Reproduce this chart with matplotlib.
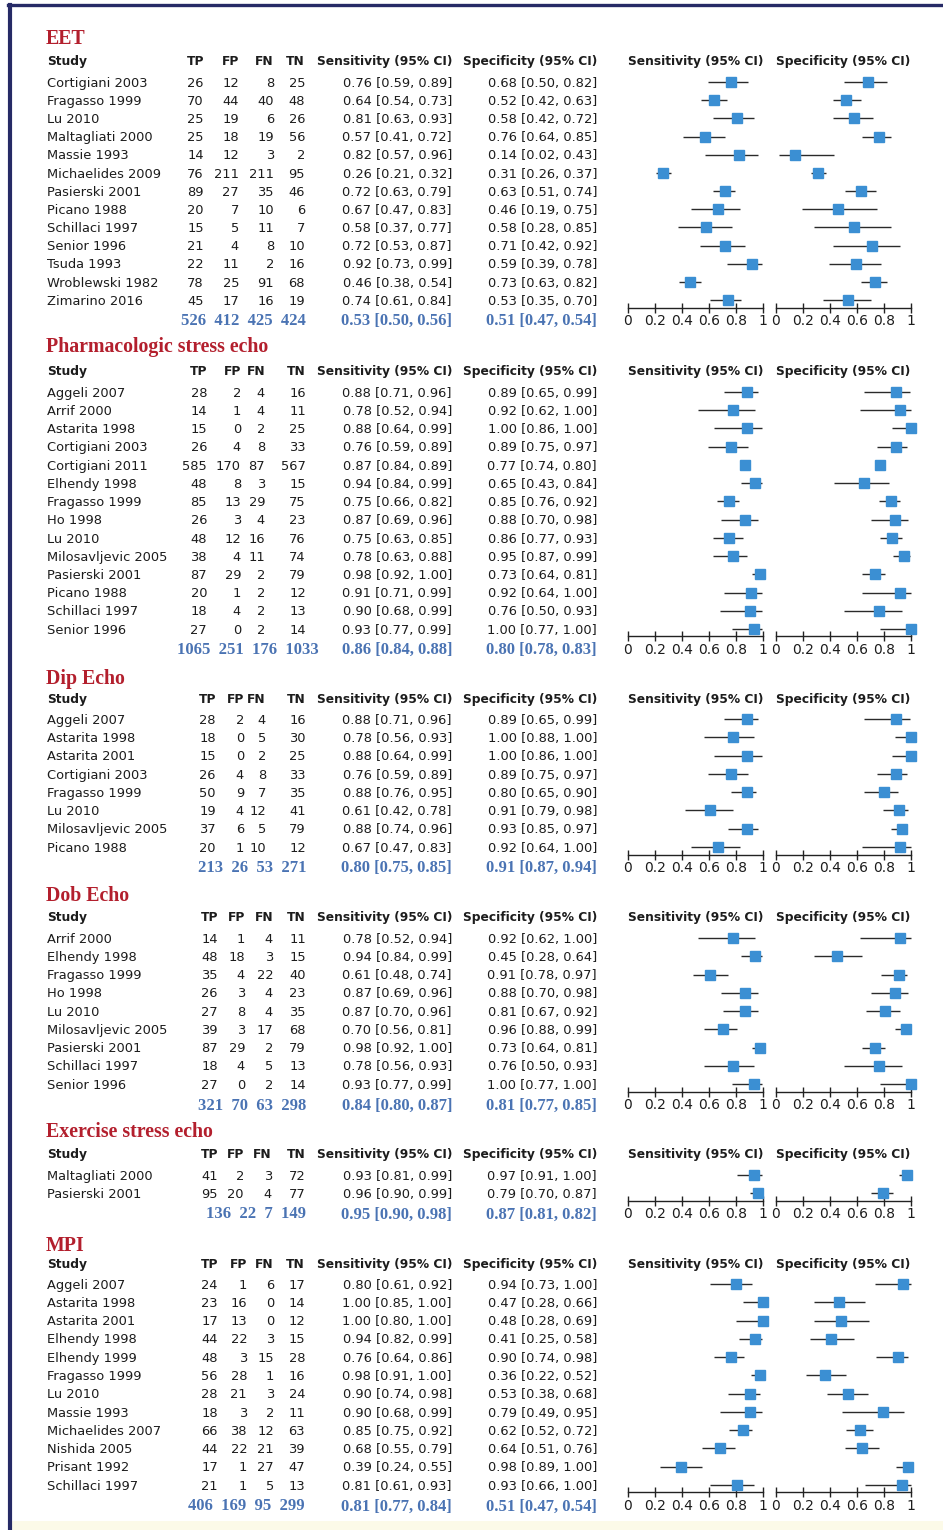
import matplotlib
matplotlib.use("Agg")
import matplotlib.pyplot as plt
from matplotlib.patches import Rectangle
from matplotlib.lines import Line2D
import numpy as np

# ---------------- DATA ----------------
eet_title = "EET"
eet_study = ["Cortigiani 2003", "Fragasso 1999", "Lu 2010", "Maltagliati 2000", "Massie 1993",
             "Michaelides 2009", "Pasierski 2001", "Picano 1988", "Schillaci 1997", "Senior 1996",
             "Tsuda 1993", "Wroblewski 1982", "Zimarino 2016"]
eet_tp = [26, 70, 25, 25, 14, 76, 89, 20, 15, 21, 22, 78, 45]
eet_fp = [12, 44, 19, 18, 12, 211, 27, 7, 5, 4, 11, 25, 17]
eet_fn = [8, 40, 6, 19, 3, 211, 35, 10, 11, 8, 2, 91, 16]
eet_tn = [25, 48, 26, 56, 2, 95, 46, 6, 7, 10, 16, 68, 19]
eet_sens = [0.76, 0.64, 0.81, 0.57, 0.82, 0.26, 0.72, 0.67, 0.58, 0.72, 0.92, 0.46, 0.74]
eet_sens_lo = [0.59, 0.54, 0.63, 0.41, 0.57, 0.21, 0.63, 0.47, 0.37, 0.53, 0.73, 0.38, 0.61]
eet_sens_hi = [0.89, 0.73, 0.93, 0.72, 0.96, 0.32, 0.79, 0.83, 0.77, 0.87, 0.99, 0.54, 0.84]
eet_spec = [0.68, 0.52, 0.58, 0.76, 0.14, 0.31, 0.63, 0.46, 0.58, 0.71, 0.59, 0.73, 0.53]
eet_spec_lo = [0.50, 0.42, 0.42, 0.64, 0.02, 0.26, 0.51, 0.19, 0.28, 0.42, 0.39, 0.63, 0.35]
eet_spec_hi = [0.82, 0.63, 0.72, 0.85, 0.43, 0.37, 0.74, 0.75, 0.85, 0.92, 0.78, 0.82, 0.70]
eet_total = [526, 412, 425, 424]
eet_pooled_sens = [0.53, 0.50, 0.56]
eet_pooled_spec = [0.51, 0.47, 0.54]

pha_title = "Pharmacologic stress echo"
pha_study = ["Aggeli 2007", "Arrif 2000", "Astarita 1998", "Cortigiani 2003", "Cortigiani 2011",
             "Elhendy 1998", "Fragasso 1999", "Ho 1998", "Lu 2010", "Milosavljevic 2005",
             "Pasierski 2001", "Picano 1988", "Schillaci 1997", "Senior 1996"]
pha_tp = [28, 14, 15, 26, 585, 48, 85, 26, 48, 38, 87, 20, 18, 27]
pha_fp = [2, 1, 0, 4, 170, 8, 13, 3, 12, 4, 29, 1, 4, 0]
pha_fn = [4, 4, 2, 8, 87, 3, 29, 4, 16, 11, 2, 2, 2, 2]
pha_tn = [16, 11, 25, 33, 567, 15, 75, 23, 76, 74, 79, 12, 13, 14]
pha_sens = [0.88, 0.78, 0.88, 0.76, 0.87, 0.94, 0.75, 0.87, 0.75, 0.78, 0.98, 0.91, 0.90, 0.93]
pha_sens_lo = [0.71, 0.52, 0.64, 0.59, 0.84, 0.84, 0.66, 0.69, 0.63, 0.63, 0.92, 0.71, 0.68, 0.77]
pha_sens_hi = [0.96, 0.94, 0.99, 0.89, 0.89, 0.99, 0.82, 0.96, 0.85, 0.88, 1.00, 0.99, 0.99, 0.99]
pha_spec = [0.89, 0.92, 1.00, 0.89, 0.77, 0.65, 0.85, 0.88, 0.86, 0.95, 0.73, 0.92, 0.76, 1.00]
pha_spec_lo = [0.65, 0.62, 0.86, 0.75, 0.74, 0.43, 0.76, 0.70, 0.77, 0.87, 0.64, 0.64, 0.50, 0.77]
pha_spec_hi = [0.99, 1.00, 1.00, 0.97, 0.80, 0.84, 0.92, 0.98, 0.93, 0.99, 0.81, 1.00, 0.93, 1.00]
pha_total = [1065, 251, 176, 1033]
pha_pooled_sens = [0.86, 0.84, 0.88]
pha_pooled_spec = [0.80, 0.78, 0.83]

dip_title = "Dip Echo"
dip_study = ["Aggeli 2007", "Astarita 1998", "Astarita 2001", "Cortigiani 2003", "Fragasso 1999",
             "Lu 2010", "Milosavljevic 2005", "Picano 1988"]
dip_tp = [28, 18, 15, 26, 50, 19, 37, 20]
dip_fp = [2, 0, 0, 4, 9, 4, 6, 1]
dip_fn = [4, 5, 2, 8, 7, 12, 5, 10]
dip_tn = [16, 30, 25, 33, 35, 41, 79, 12]
dip_sens = [0.88, 0.78, 0.88, 0.76, 0.88, 0.61, 0.88, 0.67]
dip_sens_lo = [0.71, 0.56, 0.64, 0.59, 0.76, 0.42, 0.74, 0.47]
dip_sens_hi = [0.96, 0.93, 0.99, 0.89, 0.95, 0.78, 0.96, 0.83]
dip_spec = [0.89, 1.00, 1.00, 0.89, 0.80, 0.91, 0.93, 0.92]
dip_spec_lo = [0.65, 0.88, 0.86, 0.75, 0.65, 0.79, 0.85, 0.64]
dip_spec_hi = [0.99, 1.00, 1.00, 0.97, 0.90, 0.98, 0.97, 1.00]
dip_total = [213, 26, 53, 271]
dip_pooled_sens = [0.80, 0.75, 0.85]
dip_pooled_spec = [0.91, 0.87, 0.94]

dob_title = "Dob Echo"
dob_study = ["Arrif 2000", "Elhendy 1998", "Fragasso 1999", "Ho 1998", "Lu 2010",
             "Milosavljevic 2005", "Pasierski 2001", "Schillaci 1997", "Senior 1996"]
dob_tp = [14, 48, 35, 26, 27, 39, 87, 18, 27]
dob_fp = [1, 18, 4, 3, 8, 3, 29, 4, 0]
dob_fn = [4, 3, 22, 4, 4, 17, 2, 5, 2]
dob_tn = [11, 15, 40, 23, 35, 68, 79, 13, 14]
dob_sens = [0.78, 0.94, 0.61, 0.87, 0.87, 0.70, 0.98, 0.78, 0.93]
dob_sens_lo = [0.52, 0.84, 0.48, 0.69, 0.70, 0.56, 0.92, 0.56, 0.77]
dob_sens_hi = [0.94, 0.99, 0.74, 0.96, 0.96, 0.81, 1.00, 0.93, 0.99]
dob_spec = [0.92, 0.45, 0.91, 0.88, 0.81, 0.96, 0.73, 0.76, 1.00]
dob_spec_lo = [0.62, 0.28, 0.78, 0.70, 0.67, 0.88, 0.64, 0.50, 0.77]
dob_spec_hi = [1.00, 0.64, 0.97, 0.98, 0.92, 0.99, 0.81, 0.93, 1.00]
dob_total = [321, 70, 63, 298]
dob_pooled_sens = [0.84, 0.80, 0.87]
dob_pooled_spec = [0.81, 0.77, 0.85]

exe_title = "Exercise stress echo"
exe_study = ["Maltagliati 2000", "Pasierski 2001"]
exe_tp = [41, 95]
exe_fp = [2, 20]
exe_fn = [3, 4]
exe_tn = [72, 77]
exe_sens = [0.93, 0.96]
exe_sens_lo = [0.81, 0.90]
exe_sens_hi = [0.99, 0.99]
exe_spec = [0.97, 0.79]
exe_spec_lo = [0.91, 0.70]
exe_spec_hi = [1.00, 0.87]
exe_total = [136, 22, 7, 149]
exe_pooled_sens = [0.95, 0.90, 0.98]
exe_pooled_spec = [0.87, 0.81, 0.82]

mpi_title = "MPI"
mpi_study = ["Aggeli 2007", "Astarita 1998", "Astarita 2001", "Elhendy 1998", "Elhendy 1999",
             "Fragasso 1999", "Lu 2010", "Massie 1993", "Michaelides 2007", "Nishida 2005",
             "Prisant 1992", "Schillaci 1997"]
mpi_tp = [24, 23, 17, 44, 48, 56, 28, 18, 66, 44, 17, 21]
mpi_fp = [1, 16, 13, 22, 3, 28, 21, 3, 38, 22, 1, 1]
mpi_fn = [6, 0, 0, 3, 15, 1, 3, 2, 12, 21, 27, 5]
mpi_tn = [17, 14, 12, 15, 28, 16, 24, 11, 63, 39, 47, 13]
mpi_sens = [0.80, 1.00, 1.00, 0.94, 0.76, 0.98, 0.90, 0.90, 0.85, 0.68, 0.39, 0.81]
mpi_sens_lo = [0.61, 0.85, 0.80, 0.82, 0.64, 0.91, 0.74, 0.68, 0.75, 0.55, 0.24, 0.61]
mpi_sens_hi = [0.92, 1.00, 1.00, 0.99, 0.86, 1.00, 0.98, 0.99, 0.92, 0.79, 0.55, 0.93]
mpi_spec = [0.94, 0.47, 0.48, 0.41, 0.90, 0.36, 0.53, 0.79, 0.62, 0.64, 0.98, 0.93]
mpi_spec_lo = [0.73, 0.28, 0.28, 0.25, 0.74, 0.22, 0.38, 0.49, 0.52, 0.51, 0.89, 0.66]
mpi_spec_hi = [1.00, 0.66, 0.69, 0.58, 0.98, 0.52, 0.68, 0.95, 0.72, 0.76, 1.00, 1.00]
mpi_total = [406, 169, 95, 299]
mpi_pooled_sens = [0.81, 0.77, 0.84]
mpi_pooled_spec = [0.51, 0.47, 0.54]

col_headers = ["Study", "TP", "FP", "FN", "TN", "Sensitivity (95% CI)", "Specificity (95% CI)"]
plot_headers = ["Sensitivity (95% CI)", "Specificity (95% CI)"]
tick_values = [0, 0.2, 0.4, 0.6, 0.8, 1]
tick_labels = ["0", "0.2", "0.4", "0.6", "0.8", "1"]

sections = [
    dict(title=eet_title, study=eet_study, tp=eet_tp, fp=eet_fp, fn=eet_fn, tn=eet_tn,
         sens=eet_sens, slo=eet_sens_lo, shi=eet_sens_hi, spec=eet_spec, plo=eet_spec_lo, phi=eet_spec_hi,
         total=eet_total, psens=eet_pooled_sens, pspec=eet_pooled_spec),
    dict(title=pha_title, study=pha_study, tp=pha_tp, fp=pha_fp, fn=pha_fn, tn=pha_tn,
         sens=pha_sens, slo=pha_sens_lo, shi=pha_sens_hi, spec=pha_spec, plo=pha_spec_lo, phi=pha_spec_hi,
         total=pha_total, psens=pha_pooled_sens, pspec=pha_pooled_spec),
    dict(title=dip_title, study=dip_study, tp=dip_tp, fp=dip_fp, fn=dip_fn, tn=dip_tn,
         sens=dip_sens, slo=dip_sens_lo, shi=dip_sens_hi, spec=dip_spec, plo=dip_spec_lo, phi=dip_spec_hi,
         total=dip_total, psens=dip_pooled_sens, pspec=dip_pooled_spec),
    dict(title=dob_title, study=dob_study, tp=dob_tp, fp=dob_fp, fn=dob_fn, tn=dob_tn,
         sens=dob_sens, slo=dob_sens_lo, shi=dob_sens_hi, spec=dob_spec, plo=dob_spec_lo, phi=dob_spec_hi,
         total=dob_total, psens=dob_pooled_sens, pspec=dob_pooled_spec),
    dict(title=exe_title, study=exe_study, tp=exe_tp, fp=exe_fp, fn=exe_fn, tn=exe_tn,
         sens=exe_sens, slo=exe_sens_lo, shi=exe_sens_hi, spec=exe_spec, plo=exe_spec_lo, phi=exe_spec_hi,
         total=exe_total, psens=exe_pooled_sens, pspec=exe_pooled_spec),
    dict(title=mpi_title, study=mpi_study, tp=mpi_tp, fp=mpi_fp, fn=mpi_fn, tn=mpi_tn,
         sens=mpi_sens, slo=mpi_sens_lo, shi=mpi_sens_hi, spec=mpi_spec, plo=mpi_spec_lo, phi=mpi_spec_hi,
         total=mpi_total, psens=mpi_pooled_sens, pspec=mpi_pooled_spec),
]

# ---------------- LAYOUT (pixels) ----------------
W, H, DPI = 943, 1530, 100
layout = [  # title_y, header_y, first_row_y, step, summary_y, column right edges, summary right edge
    (37, 61, 82, 18.17, 319, (204, 239, 274, 305), 306),
    (345, 371, 392, 18.23, 648, (207, 241, 265, 306), 319),
    (677, 699, 719, 18.29, 866, (216, 244, 266, 306), 306),
    (894, 917, 938, 18.25, 1104, (218, 245, 273, 306), 306),
    (1130, 1154, 1175, 18.0, 1213, (218, 244, 272, 306), 306),
    (1244, 1264, 1284, 18.27, 1505, (218, 247, 274, 305), 305),
]
X_STUDY = 47
X_SENS_TXT = 452
X_SPEC_TXT = 597
SENS_AX = (628, 763)
SPEC_AX = (776, 911)

NAVY = "#262a66"
RED = "#b31f2d"
BLUE_TXT = "#4a73b3"
SQ = "#3b8fd3"
INK = "#1c1c1c"

BODY = dict(family="DejaVu Sans", fontsize=9.4, color=INK)
HEAD = dict(family="DejaVu Sans", fontsize=8.8, fontweight="bold", color=INK)
TITLE = dict(family="Liberation Serif", fontsize=14.3, fontweight="bold", color=RED)
SUMF = dict(family="Liberation Serif", fontsize=12, fontweight="bold", color=BLUE_TXT)

fig = plt.figure(figsize=(W / DPI, H / DPI), dpi=DPI)
fig.patch.set_facecolor("white")
bg = fig.add_axes([0, 0, 1, 1])
bg.set_xlim(0, W)
bg.set_ylim(H, 0)
bg.axis("off")

# frame + faint band at bottom
bg.add_patch(Rectangle((10, 1521), W - 10, 9, facecolor="#fcfae8", edgecolor="none"))
fig.add_artist(Line2D([9.5 / W, 9.5 / W], [0, 1 - 4.5 / H], transform=fig.transFigure, color=NAVY, lw=3))
fig.add_artist(Line2D([8 / W, 1], [1 - 4.5 / H, 1 - 4.5 / H], transform=fig.transFigure, color=NAVY, lw=2.4))


def ci_text(v):
    return f"{v[0]:.2f} [{v[1]:.2f}, {v[2]:.2f}]"


def base(y, size_px=13.0):
    return y + 0.36 * size_px


def forest(x0, x1, first_y, step, n, est, lo, hi):
    top_px = first_y - 10
    bot_px = first_y + (n - 1) * step + 7.5
    ax = fig.add_axes([x0 / W, 1 - bot_px / H, (x1 - x0) / W, (bot_px - top_px) / H])
    ax.set_xlim(0, 1)
    ax.set_ylim((bot_px - first_y) / step, (top_px - first_y) / step)
    ax.patch.set_alpha(0)
    y = np.arange(n)
    ax.hlines(y, lo, hi, color="#2a2a2a", lw=1.0, clip_on=False, zorder=2)
    ax.plot(est, y, "s", ms=6.8, color=SQ, mec=SQ, clip_on=False, zorder=3)
    for s in ["top", "left", "right"]:
        ax.spines[s].set_visible(False)
    ax.spines["bottom"].set_linewidth(1.0)
    ax.spines["bottom"].set_color("#222222")
    ax.set_yticks([])
    ax.set_xticks(tick_values)
    ax.set_xticklabels(tick_labels, family="DejaVu Sans", fontsize=10, color=INK)
    ax.tick_params(axis="x", direction="inout", length=7, width=1.0, pad=1.5, color="#222222")
    return ax


for sec, (ty, hy, ry, step, sy, xnum, xsum) in zip(sections, layout):
    n = len(sec["study"])
    bg.text(X_STUDY - 1, ty + 7, sec["title"], ha="left", va="baseline", **TITLE)
    hb = base(hy, 12.2)
    bg.text(X_STUDY, hb, col_headers[0], ha="left", va="baseline", **HEAD)
    for xr, lab in zip(xnum, col_headers[1:5]):
        bg.text(xr, hb, lab, ha="right", va="baseline", **HEAD)
    bg.text(X_SENS_TXT, hb, col_headers[5], ha="right", va="baseline", **HEAD)
    bg.text(X_SPEC_TXT, hb, col_headers[6], ha="right", va="baseline", **HEAD)
    bg.text((SENS_AX[0] + SENS_AX[1]) / 2, hb, plot_headers[0], ha="center", va="baseline", **HEAD)
    bg.text((SPEC_AX[0] + SPEC_AX[1]) / 2, hb, plot_headers[1], ha="center", va="baseline", **HEAD)
    for i in range(n):
        yb = base(ry + i * step)
        bg.text(X_STUDY, yb, sec["study"][i], ha="left", va="baseline", **BODY)
        for xr, key in zip(xnum, ["tp", "fp", "fn", "tn"]):
            bg.text(xr, yb, str(sec[key][i]), ha="right", va="baseline", **BODY)
        bg.text(X_SENS_TXT, yb, ci_text((sec["sens"][i], sec["slo"][i], sec["shi"][i])),
                ha="right", va="baseline", **BODY)
        bg.text(X_SPEC_TXT, yb, ci_text((sec["spec"][i], sec["plo"][i], sec["phi"][i])),
                ha="right", va="baseline", **BODY)
    sb = sy + 5.5
    bg.text(xsum, sb, "  ".join(str(v) for v in sec["total"]), ha="right", va="baseline", **SUMF)
    bg.text(X_SENS_TXT, sb, ci_text(sec["psens"]), ha="right", va="baseline", **SUMF)
    bg.text(X_SPEC_TXT, sb, ci_text(sec["pspec"]), ha="right", va="baseline", **SUMF)

    forest(SENS_AX[0], SENS_AX[1], ry, step, n, sec["sens"], sec["slo"], sec["shi"])
    forest(SPEC_AX[0], SPEC_AX[1], ry, step, n, sec["spec"], sec["plo"], sec["phi"])

fig.savefig("out.png", dpi=DPI, facecolor="white")
